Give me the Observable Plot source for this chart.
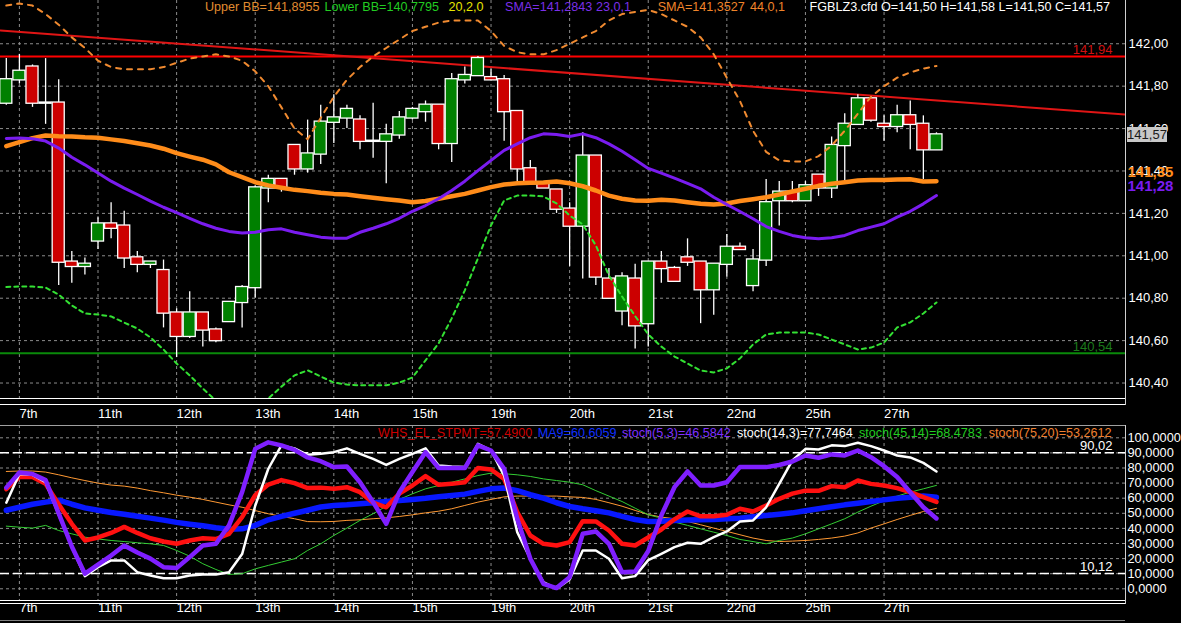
<!DOCTYPE html>
<html><head><meta charset="utf-8">
<script src="https://cdn.jsdelivr.net/npm/d3@7"></script>
<script src="https://cdn.jsdelivr.net/npm/@observablehq/plot@0.6"></script>
<style>
html,body{margin:0;padding:0;background:#000;}
#wrap{position:relative;width:1181px;height:623px;background:#000;overflow:hidden;font-family:"Liberation Sans",Arial,sans-serif;font-size:13px;}
#top{position:absolute;left:0;top:0;}
#bot{position:absolute;left:0;top:425px;}
.leg{position:absolute;white-space:pre;line-height:13px;font-size:12.6px;}
</style></head><body><div id="wrap"><div id="top"></div><div id="bot"></div></div>
<script>
// ---------- data ----------
const dayLabels = ["7th","11th","12th","13th","14th","15th","19th","20th","21st","22nd","25th","27th"];
const dayStart  = [1,7,13,19,25,31,37,43,49,55,61,67];

const open  = [141.72,141.83,141.89,141.72,141.72,140.97,140.95,141.07,141.15,141.14,140.99,140.96,140.93,140.73,140.62,140.73,140.65,140.69,140.78,140.85,141.32,141.36,141.52,141.41,141.48,141.63,141.65,141.64,141.54,141.54,141.57,141.65,141.68,141.71,141.53,141.83,141.85,141.84,141.83,141.68,141.41,141.34,141.31,141.22,141.14,141.47,140.89,140.74,140.89,140.68,140.97,140.94,140.99,140.97,140.84,140.96,141.04,140.86,140.98,141.26,141.30,141.26,141.38,141.32,141.52,141.62,141.74,141.62,141.61,141.66,141.62,141.50];
const high  = [141.93,141.95,141.90,141.93,141.83,141.02,140.99,141.18,141.25,141.21,141.02,140.97,140.98,140.75,140.83,140.73,140.66,140.78,140.86,141.33,141.38,141.36,141.52,141.64,141.71,141.76,141.71,141.66,141.72,141.62,141.68,141.70,141.73,141.71,141.86,141.89,141.94,141.88,141.85,141.68,141.45,141.34,141.31,141.25,141.58,141.47,140.94,140.92,140.96,140.97,141.02,140.95,141.08,140.97,140.96,141.10,141.06,141.03,141.36,141.35,141.35,141.35,141.38,141.56,141.67,141.76,141.74,141.66,141.71,141.73,141.66,141.58];
const low   = [141.71,141.81,141.70,141.62,140.86,140.87,140.91,141.03,141.08,140.94,140.92,140.94,140.66,140.52,140.61,140.57,140.59,140.69,140.66,140.80,141.25,141.30,141.38,141.39,141.43,141.53,141.60,141.50,141.46,141.34,141.55,141.64,141.63,141.50,141.44,141.81,141.85,141.83,141.54,141.35,141.34,141.32,141.20,140.95,140.89,140.86,140.80,140.67,140.56,140.57,140.87,140.88,140.95,140.68,140.72,140.90,141.03,140.83,140.95,141.14,141.25,141.26,141.28,141.27,141.35,141.62,141.63,141.54,141.58,141.50,141.36,141.50];
const close = [141.83,141.87,141.72,141.72,140.97,140.95,140.96,141.15,141.13,140.99,140.96,140.97,140.73,140.62,140.73,140.65,140.60,140.78,140.85,141.32,141.36,141.32,141.41,141.48,141.63,141.65,141.69,141.54,141.54,141.57,141.65,141.69,141.71,141.53,141.83,141.85,141.93,141.83,141.68,141.41,141.34,141.32,141.22,141.14,141.47,140.90,140.80,140.90,140.67,140.97,140.94,140.88,140.97,140.84,140.96,141.04,141.03,140.98,141.25,141.30,141.26,141.33,141.32,141.52,141.62,141.74,141.64,141.61,141.66,141.62,141.50,141.57];

const sma44 = [141.517,141.536,141.555,141.567,141.564,141.563,141.559,141.557,141.549,141.541,141.531,141.520,141.505,141.484,141.468,141.453,141.431,141.394,141.371,141.347,141.332,141.321,141.311,141.305,141.297,141.292,141.289,141.281,141.274,141.267,141.261,141.253,141.258,141.269,141.281,141.292,141.308,141.324,141.336,141.342,141.344,141.346,141.350,141.342,141.328,141.308,141.284,141.269,141.261,141.260,141.264,141.261,141.253,141.245,141.242,141.247,141.258,141.267,141.276,141.289,141.303,141.316,141.330,141.340,141.347,141.355,141.358,141.358,141.360,141.361,141.350,141.352];
const sma23 = [141.553,141.555,141.552,141.541,141.508,141.465,141.429,141.390,141.352,141.319,141.289,141.258,141.229,141.204,141.177,141.151,141.130,141.115,141.107,141.111,141.123,141.127,141.111,141.099,141.088,141.083,141.083,141.111,141.130,141.151,141.177,141.210,141.237,141.269,141.308,141.352,141.402,141.450,141.497,141.528,141.557,141.575,141.572,141.563,141.575,141.557,141.528,141.493,141.453,141.412,141.390,141.366,141.342,141.316,141.276,141.242,141.209,141.175,141.138,141.115,141.096,141.085,141.080,141.085,141.096,141.119,141.135,141.151,141.182,141.210,141.245,141.284];
const bbUpper = [142.18,142.19,142.18,142.14,142.09,142.03,141.98,141.92,141.89,141.88,141.88,141.88,141.89,141.91,141.93,141.94,141.95,141.94,141.92,141.87,141.80,141.70,141.60,141.55,141.65,141.75,141.83,141.89,141.94,141.98,142.02,142.06,142.08,142.10,142.11,142.11,142.11,142.06,141.99,141.96,141.95,141.95,141.97,142.00,142.03,142.06,142.11,142.14,142.15,142.16,142.14,142.11,142.08,142.03,141.95,141.84,141.73,141.59,141.49,141.45,141.445,141.445,141.47,141.52,141.59,141.67,141.75,141.80,141.84,141.865,141.883,141.895];
const bbLower = [140.853,140.855,140.855,140.850,140.817,140.766,140.728,140.723,140.714,140.685,140.657,140.615,140.558,140.492,140.436,140.374,140.317,140.27,140.25,140.27,140.327,140.383,140.436,140.460,140.431,140.402,140.393,140.389,140.389,140.389,140.402,140.426,140.507,140.587,140.705,140.837,140.988,141.144,141.261,141.284,141.284,141.280,141.247,141.190,141.148,141.049,140.907,140.808,140.716,140.629,140.572,140.525,140.492,140.459,140.450,140.469,140.516,140.582,140.629,140.638,140.638,140.638,140.629,140.605,140.582,140.558,140.567,140.591,140.662,140.686,140.728,140.78];

const priceTicks = [140.4,140.6,140.8,141.0,141.2,141.4,141.6,141.8,142.0];
const redLevel = 141.94, greenLevel = 140.54;
const trendK = [-0.443, 85.43], trendP = [142.063, 141.666];
const sma44Last = 141.35, sma23Last = 141.28;

// oscillators
const whs  = [66,74,74,69.5,56,43,32,34,37,41,37,33.5,31.3,29.8,32,33.5,33,36.4,47.5,62,69,72,70,66.7,67,66.2,67.3,64,57,54,63,68.4,74.6,68.9,69.5,70.6,80,79,72.8,50.8,35.3,29.8,28.7,30.9,44.8,44.6,38.6,29.8,28.7,34,39.3,46,51.2,48,48,49,53,51.2,55.2,59.6,63,65,64.9,68,67.3,71.7,69.5,68.4,66.7,64,60.7,57.5];
const ma9  = [52,54,56,57.4,58.7,56,53.6,52,50.5,49.4,48,46.8,45.5,44,42.8,41.7,40.4,39.5,39.7,42,45.7,48,50,52,54.2,55.2,55.6,56.3,57,57.8,58.5,59.2,60,61,61.8,62.7,64.5,66.2,66.7,65,62.3,60,57,54.5,53,51.7,50.3,48,45.9,44.6,44.8,45.3,45.5,45.7,45.9,46.4,46.8,47.7,48.6,49.4,50.3,51.7,53,54.3,55.6,56.7,57.8,58.9,60,60.7,61.4,60.6];
const st5  = [67,77,76,72,50,28,10,16,22,28.7,24,20,14.3,13.7,21,28.7,29.8,42,64,92.7,97,95,92,87,84.5,80.6,81,70.6,57.4,43,64,77.3,90.5,80,80,80,95,91.6,79.5,46.4,19.9,3.3,0.5,7.7,36.4,38,29.8,11,11.5,25,48.6,67.3,77.7,68.4,68.4,70.6,80.6,80.6,80.6,82,84.3,88.3,86.8,89,88.3,91.6,87.2,81.2,74,64,54,46.6];
const st14 = [57,76,75.5,70.6,49,27.6,8.4,14.3,18.8,18.8,11,8.8,7,7,8.8,9.5,9.5,11,23,55,79.5,95,93,88.7,89.4,90.5,93,89.4,86,82,86,89.4,93,81.7,81,80.6,96,91.6,75,37.5,19.9,4.4,0,6.2,25.4,25.4,19.9,7,8.4,19,23.2,27.6,30.5,29.8,34.2,38,44.6,45.3,54,69.5,85,92.7,92.3,95,94.5,96.7,94.5,91.6,88.3,87,83.4,77.7];
const st45 = [41.5,40.8,40.2,42,38.6,36.4,34.2,33,32,31.3,30.5,29.8,28.7,25.4,21.6,16.6,12.8,9.5,10,13.2,15.5,17.7,19.9,25.4,29.8,35.3,40.2,45.3,49.7,54.7,59.2,62.9,66.2,68.4,70.6,72.8,75,76.6,76.2,75.5,74.4,72.8,71.7,70.6,68.9,65,61.4,57.8,53.4,49,46.8,44.2,42,39.7,37.5,35.3,32.7,31.3,29.8,32,33.6,36.4,39.7,43,46.4,50.8,54.7,58.3,61.4,64,66.2,68.5];
const st75 = [77.7,78,78,77.3,75.5,73.5,71.7,70,68.7,68,66.7,65,63.6,62,60.7,59.2,57.4,55.6,54,51.8,49.7,48,46.4,44.5,44.4,44.6,45.3,45.7,46.4,47,47.9,49,50.3,51.4,53,55.2,57.4,59.2,60.9,61.4,61.4,61.4,61.4,60.9,60.5,59.2,57,54.7,51.9,49.2,47.5,46.4,44.6,42.4,40.2,38,35.8,33.6,32,31.3,31.6,32,32.7,33.6,34.9,37,40.2,43,45.9,48.6,51.2,53.3];
const oscTicks = [0,10,20,30,40,50,60,70,80,90,100];
const oscLevels = [90.02, 10.12];

const topLegend = [
  {t:"Upper BB=141,8955", x:205, c:"#e08c30"},
  {t:"Lower BB=140,7795", x:324.5, c:"#22cc22"},
  {t:"20,2,0", x:448.5, c:"#e6e600"},
  {t:"SMA=141,2843", x:505, c:"#7b2fe8"},
  {t:"23,0,1", x:596, c:"#7b2fe8"},
  {t:"SMA=141,3527", x:657.7, c:"#f0842a"},
  {t:"44,0,1", x:750, c:"#f0842a"},
  {t:"FGBLZ3.cfd O=141,50 H=141,58 L=141,50 C=141,57", x:809.6, c:"#ffffff"}
];
const botLegend = [
  {t:"WHS_EL_STPMT=57,4900", x:378, c:"#cc0000"},
  {t:"MA9=60,6059", x:537.7, c:"#1030ff"},
  {t:"stoch(5,3)=46,5842", x:622, c:"#7f2fff"},
  {t:"stoch(14,3)=77,7464", x:737, c:"#ffffff"},
  {t:"stoch(45,14)=68,4783", x:859, c:"#22cc22"},
  {t:"stoch(75,20)=53,2612", x:988.7, c:"#f08030"}
];

// ---------- build ----------
const FONT = '"Liberation Sans", Arial, sans-serif';
const xDomain = [-0.443, 85.43];
const fmt2 = d => d.toFixed(2).replace(".", ",");
const fmt4 = d => d.toFixed(4).replace(".", ",");
const ser = arr => arr.map((v, k) => ({k, v}));
const candles = open.map((o, k) => ({k, o, h: high[k], l: low[k], c: close[k]}));
const trend = trendK.map((k, i) => ({k, p: trendP[i]}));
const grid = "#8c8c8c";

const topPlot = Plot.plot({
  width: 1181, height: 425, marginLeft: 0, marginRight: 56, marginTop: 0, marginBottom: 27,
  style: {background: "#000", color: "#fff", fontFamily: FONT, fontSize: "13px", overflow: "visible"},
  x: {domain: xDomain, axis: null},
  y: {domain: [140.327, 142.204], axis: null},
  marks: [
    Plot.ruleY(priceTicks, {stroke: grid, strokeDasharray: "3,3", strokeWidth: 1}),
    Plot.ruleX(dayStart, {stroke: grid, strokeDasharray: "3,3", strokeWidth: 1}),
    Plot.ruleY([redLevel], {stroke: "#ff0000", strokeWidth: 2}),
    Plot.ruleY([greenLevel], {stroke: "#0a8a0a", strokeWidth: 2}),
    Plot.line(trend, {x: "k", y: "p", stroke: "#e01515", strokeWidth: 2, clip: true}),
    Plot.ruleX(candles, {x: "k", y1: "l", y2: "h", stroke: "#fff", strokeWidth: 1.3}),
    Plot.rect(candles, {x1: d => d.k - 0.46, x2: d => d.k + 0.46, y1: "o", y2: "c",
      fill: d => d.c >= d.o ? "#008000" : "#cc0000", stroke: "#fff", strokeWidth: 1.3,
      insetTop: -0.6, insetBottom: -0.6}),
    Plot.line(ser(bbLower), {x: "k", y: "v", stroke: "#33e033", strokeWidth: 2, strokeDasharray: "4,4", clip: true}),
    Plot.line(ser(bbUpper), {x: "k", y: "v", stroke: "#f08a30", strokeWidth: 2, strokeDasharray: "5,6", clip: true}),
    Plot.line(ser(sma44), {x: "k", y: "v", stroke: "#ff8c1a", strokeWidth: 4.5}),
    Plot.line(ser(sma23), {x: "k", y: "v", stroke: "#7a1cf0", strokeWidth: 3}),
    Plot.text(priceTicks, {y: d => d, frameAnchor: "right", dx: 3, textAnchor: "start", text: fmt2, fill: "#fff", fontSize: 13}),
    Plot.text([redLevel], {y: d => d, frameAnchor: "right", dx: -13, dy: -6.2, textAnchor: "end", text: fmt2, fill: "#d01010", fontSize: 13}),
    Plot.text([greenLevel], {y: d => d, frameAnchor: "right", dx: -13, dy: -7, textAnchor: "end", text: fmt2, fill: "#1c7a1c", fontSize: 13}),
    Plot.text([sma44Last], {y: d => d, frameAnchor: "right", dx: 2, dy: -9.5, textAnchor: "start", text: fmt2, fill: "#ff8c1a", fontSize: 15, fontWeight: "bold"}),
    Plot.text([sma23Last], {y: d => d, frameAnchor: "right", dx: 2, dy: -10, textAnchor: "start", text: fmt2, fill: "#7a1cf0", fontSize: 15, fontWeight: "bold"}),
    Plot.text(dayStart, {x: d => d, frameAnchor: "bottom", dy: 19.5, textAnchor: "start", text: (d, i) => dayLabels[i], fill: "#fff", fontSize: 13})
  ]
});
document.getElementById("top").appendChild(topPlot);

const botPlot = Plot.plot({
  width: 1181, height: 198, marginLeft: 0, marginRight: 56, marginTop: 0, marginBottom: 23,
  style: {background: "#000", color: "#fff", fontFamily: FONT, fontSize: "13px", overflow: "visible"},
  x: {domain: xDomain, axis: null},
  y: {domain: [-7.75, 108.15], axis: null},
  marks: [
    Plot.ruleY(oscTicks, {stroke: grid, strokeDasharray: "3,3", strokeWidth: 1}),
    Plot.ruleX(dayStart, {stroke: grid, strokeDasharray: "3,3", strokeWidth: 1}),
    Plot.ruleY(oscLevels, {stroke: "#fff", strokeDasharray: "9,4", strokeWidth: 1.5}),
    Plot.line(ser(st75), {x: "k", y: "v", stroke: "#ff9933", strokeWidth: 1}),
    Plot.line(ser(st45), {x: "k", y: "v", stroke: "#33cc33", strokeWidth: 1}),
    Plot.line(ser(ma9), {x: "k", y: "v", stroke: "#0818ff", strokeWidth: 5.5}),
    Plot.line(ser(whs), {x: "k", y: "v", stroke: "#ff1010", strokeWidth: 4.5}),
    Plot.line(ser(st14), {x: "k", y: "v", stroke: "#ffffff", strokeWidth: 2.5}),
    Plot.line(ser(st5), {x: "k", y: "v", stroke: "#7f1fff", strokeWidth: 4.5}),
    Plot.text(oscTicks, {y: d => d, frameAnchor: "right", dx: 2, textAnchor: "start", text: fmt4, fill: "#fff", fontSize: 12.8}),
    Plot.text(oscLevels, {y: d => d, frameAnchor: "right", dx: -13, dy: -7.1, textAnchor: "end", text: fmt2, fill: "#fff", fontSize: 13}),
    Plot.text(dayStart, {x: d => d, frameAnchor: "bottom", dy: 11.8, textAnchor: "start", text: (d, i) => dayLabels[i], fill: "#fff", fontSize: 13})
  ]
});
document.getElementById("bot").appendChild(botPlot);

// last-price box on the price axis
const wrap = document.getElementById("wrap");
const yTop = topPlot.scale("y");
const lastY = yTop.apply(close[close.length - 1]);
const box = document.createElement("div");
box.style.cssText = `position:absolute;left:1127px;top:${lastY - 7.5}px;width:40px;height:15px;background:#c8c8c8;color:#1a1a1a;font-size:13px;line-height:15px;text-align:center;`;
box.textContent = fmt2(close[close.length - 1]);
wrap.appendChild(box);

// frame / separator lines
function hline(y, x1, x2, color, w) {
  const d = document.createElement("div");
  d.style.cssText = `position:absolute;left:${x1}px;top:${y}px;width:${x2 - x1}px;height:0;border-top:${w}px solid ${color};`;
  wrap.appendChild(d);
}
function vline(x, y1, y2, color, w) {
  const d = document.createElement("div");
  d.style.cssText = `position:absolute;left:${x}px;top:${y1}px;width:0;height:${y2 - y1}px;border-left:${w}px solid ${color};`;
  wrap.appendChild(d);
}
hline(398, 0, 1125, "#ffffff", 1.5);
hline(403.5, 0, 1125, "#ffffff", 1.5);
hline(424.5, 0, 1125, "#a0a0a0", 1);
hline(599.5, 0, 1125, "#ffffff", 1.5);
hline(603, 0, 1125, "#ffffff", 1.5);
hline(620, 0, 1125, "#808080", 1);
vline(1124.5, 0, 405, "#d0d0d0", 1);
vline(1124.5, 424.5, 604, "#d0d0d0", 1);

// legends
function legend(items, top) {
  for (const it of items) {
    const s = document.createElement("div");
    s.className = "leg";
    s.style.left = it.x + "px";
    s.style.top = top + "px";
    s.style.color = it.c;
    s.textContent = it.t;
    wrap.appendChild(s);
  }
}
legend(topLegend, 0.5);
legend(botLegend, 427);
</script>
</body></html>
